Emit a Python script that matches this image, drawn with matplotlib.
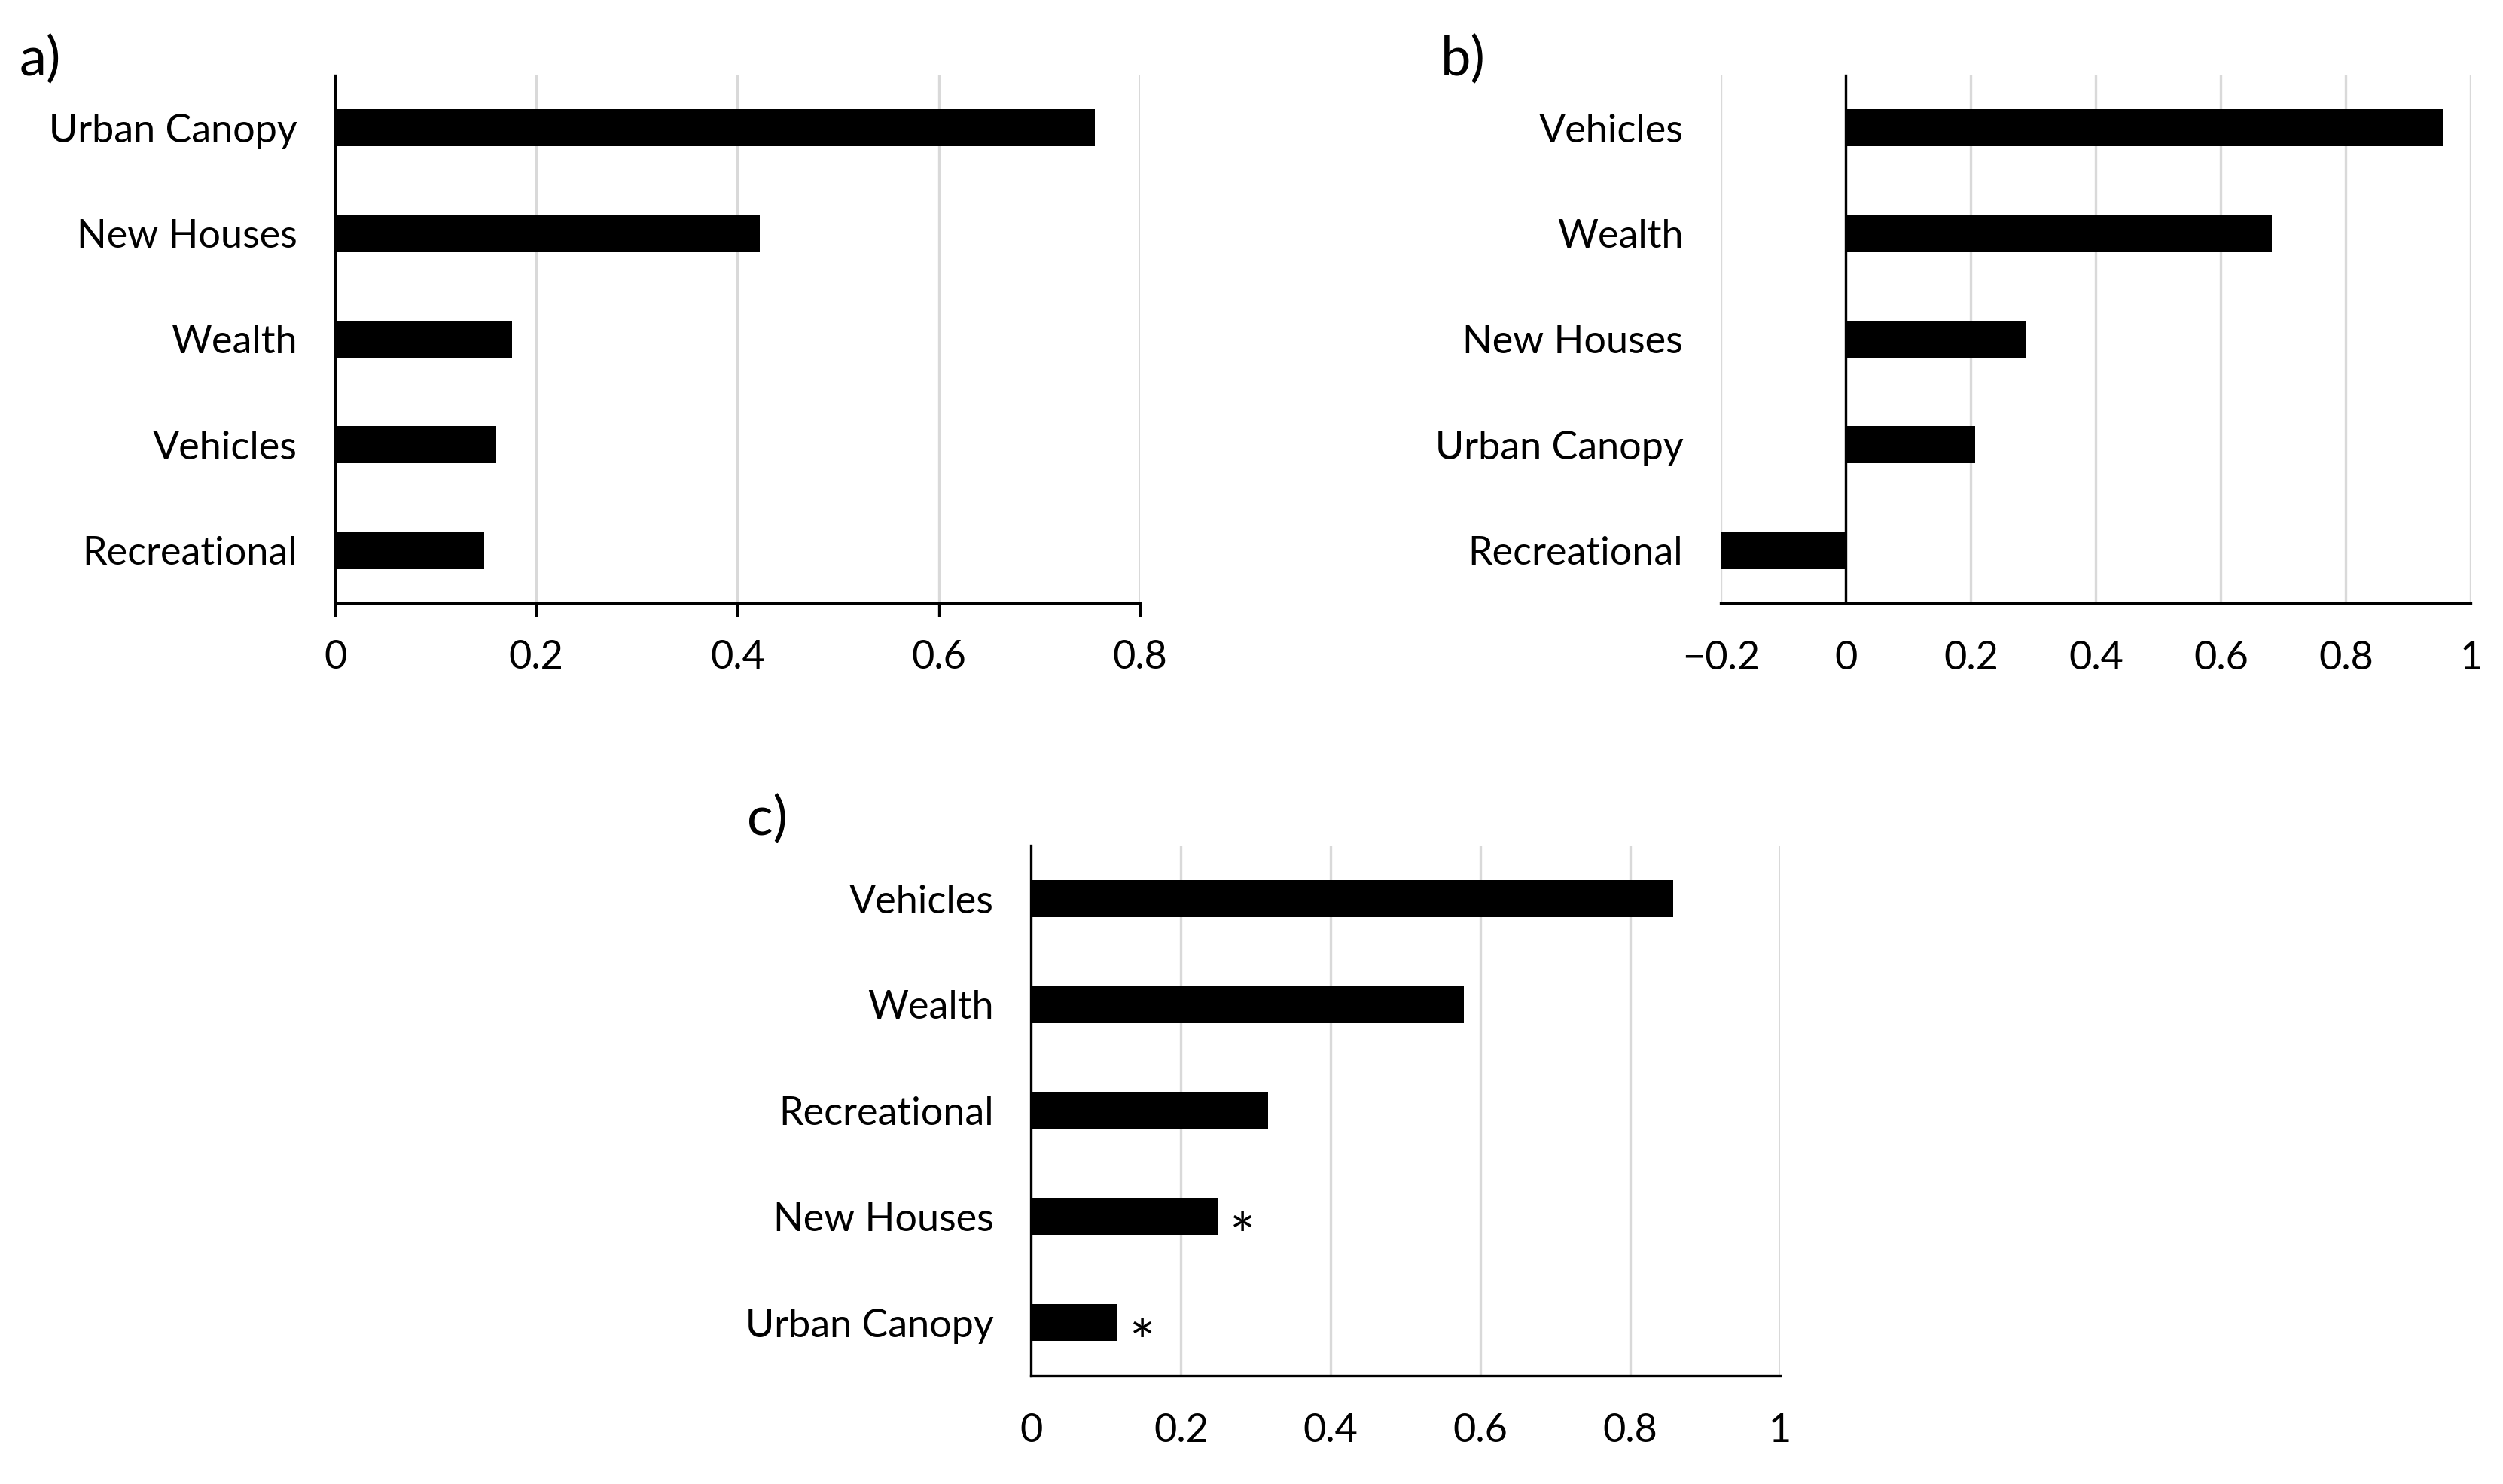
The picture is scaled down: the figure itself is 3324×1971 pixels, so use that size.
"""
Three horizontal bar panels (a, b, c) of variable importance.
Saves out.png.
"""
import matplotlib.pyplot as plt

plt.rcParams["font.family"] = ["Lato", "DejaVu Sans"]

# panel a
CATS_A = ["Urban Canopy", "New Houses", "Wealth", "Vehicles", "Recreational"]
VALS_A = [0.755, 0.422, 0.176, 0.160, 0.148]
TICKS_A = [0, 0.2, 0.4, 0.6, 0.8]
TICKLABELS_A = ["0", "0.2", "0.4", "0.6", "0.8"]

# panel b
CATS_B = ["Vehicles", "Wealth", "New Houses", "Urban Canopy", "Recreational"]
VALS_B = [0.955, 0.682, 0.288, 0.207, -0.200]
TICKS_B = [-0.2, 0, 0.2, 0.4, 0.6, 0.8, 1.0]
TICKLABELS_B = ["\u22120.2", "0", "0.2", "0.4", "0.6", "0.8", "1"]

# panel c
CATS_C = ["Vehicles", "Wealth", "Recreational", "New Houses", "Urban Canopy"]
VALS_C = [0.857, 0.578, 0.316, 0.249, 0.115]
STARS_C = ["", "", "", "*", "*"]
TICKS_C = [0, 0.2, 0.4, 0.6, 0.8, 1.0]
TICKLABELS_C = ["0", "0.2", "0.4", "0.6", "0.8", "1"]

FS = 37.5
GRID = "#d9d9d9"


def draw_panel(ax, cats, vals, ticks, ticklabels, outward_ticks=False, ypad=36):
    y = list(range(len(cats)))
    ax.barh(y, vals, height=0.35, color="black", zorder=3)
    ax.set_ylim(len(cats) - 0.5, -0.5)
    ax.set_xlim(ticks[0], ticks[-1])
    ax.set_yticks(y)
    ax.set_yticklabels(cats)
    ax.set_xticks(ticks)
    ax.set_xticklabels(ticklabels)
    for t in ticks:
        ax.axvline(t, color=GRID, lw=2.4, zorder=1)
    for s in ["top", "right"]:
        ax.spines[s].set_visible(False)
    for s in ["left", "bottom"]:
        ax.spines[s].set_linewidth(2.4)
        ax.spines[s].set_zorder(4)
    ax.tick_params(axis="y", length=0, pad=ypad, labelsize=FS)
    if outward_ticks:
        ax.tick_params(axis="x", direction="out", length=13, width=2.4, pad=22, labelsize=FS)
    else:
        ax.tick_params(axis="x", length=0, pad=36, labelsize=FS)


fig = plt.figure(figsize=(33.24, 19.71), dpi=100)

ax_a = fig.add_axes([0.1339, 0.5935, 0.3215, 0.356])
draw_panel(ax_a, CATS_A, VALS_A, TICKS_A, TICKLABELS_A, outward_ticks=True)

# in b the category axis crosses at 0, labels stay left of -0.2
w_b = 0.2997
ax_b = fig.add_axes([0.6875, 0.5935, w_b, 0.356])
shift_pt = (0.2 / 1.2) * w_b * 33.24 * 72
draw_panel(ax_b, CATS_B, VALS_B, TICKS_B, TICKLABELS_B, ypad=36 + shift_pt)
ax_b.spines["left"].set_position(("data", 0))

ax_c = fig.add_axes([0.412, 0.0731, 0.2991, 0.357])
draw_panel(ax_c, CATS_C, VALS_C, TICKS_C, TICKLABELS_C)
for i, (v, s) in enumerate(zip(VALS_C, STARS_C)):
    if s:
        ax_c.text(v + 0.015, i + 0.22, s, fontsize=58,
                  ha="left", va="center", zorder=5)

fig.text(0.0077, 0.960, "a)", fontsize=52, ha="left", va="center")
fig.text(0.5755, 0.960, "b)", fontsize=52, ha="left", va="center")
fig.text(0.2985, 0.448, "c)", fontsize=52, ha="left", va="center")

fig.savefig("out.png", dpi=100, facecolor="white")
